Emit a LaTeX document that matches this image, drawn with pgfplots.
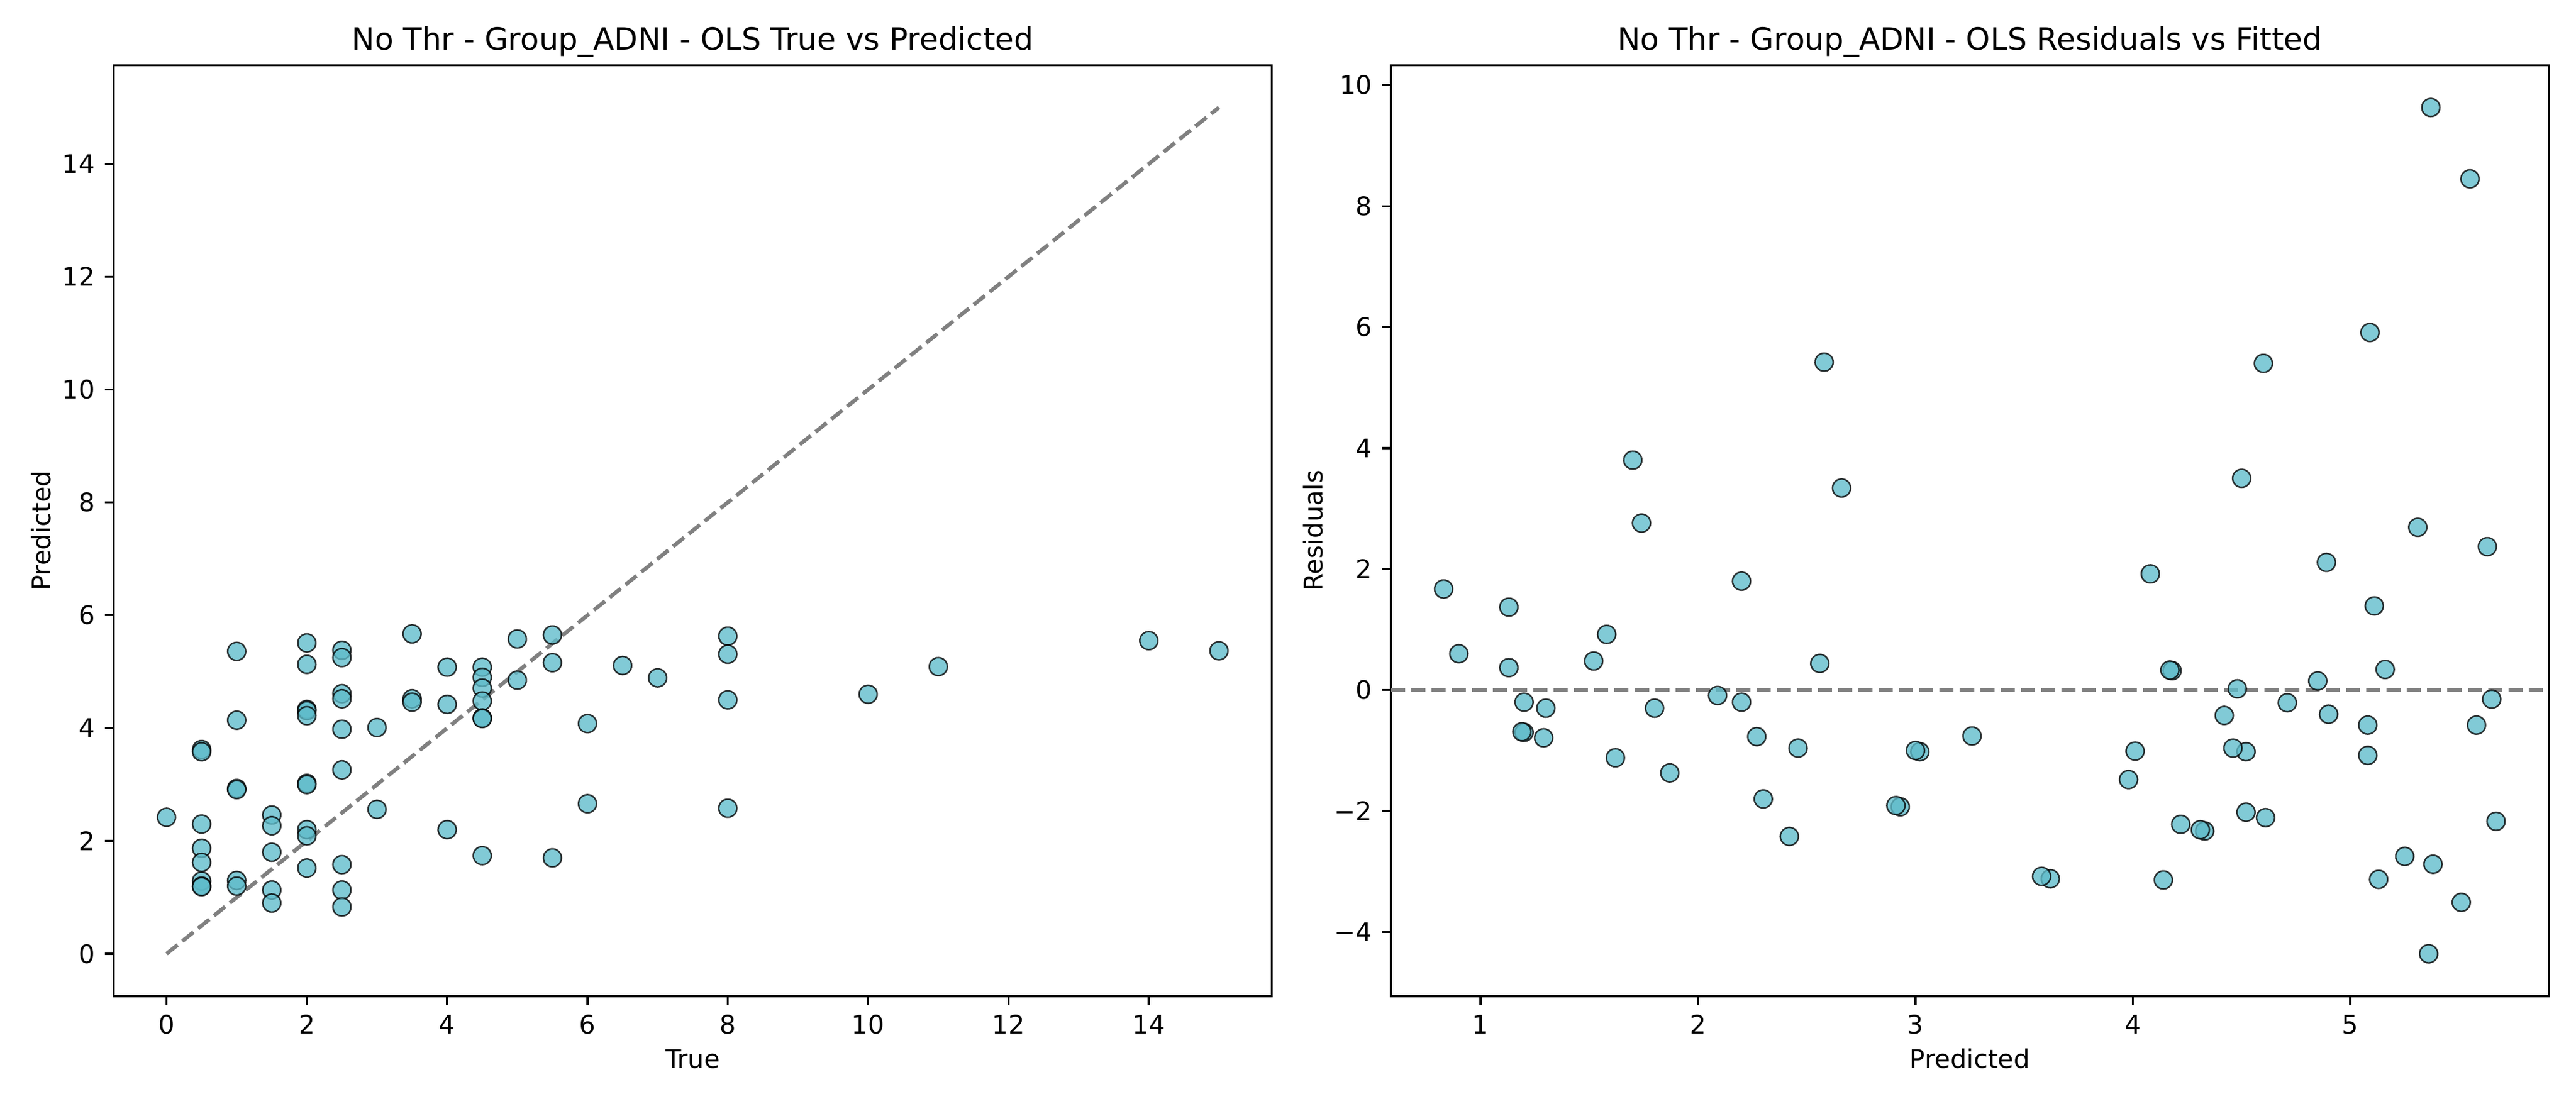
\documentclass[border=0pt]{standalone}
\usepackage{pgfplots}
\pgfplotsset{compat=1.18}
\usepackage{pgfplotstable}
\usepackage{fontspec}
\setmainfont{DejaVu Sans}
\definecolor{ptc}{RGB}{94,187,202}
\definecolor{lgray}{RGB}{128,128,128}

\pgfplotstableread{
t p r
0 2.42 -2.42
0.5 3.62 -3.12
0.5 3.58 -3.08
0.5 2.30 -1.80
0.5 1.87 -1.37
0.5 1.62 -1.12
0.5 1.29 -0.79
0.5 1.20 -0.70
0.5 1.19 -0.69
1 5.36 -4.36
1 4.14 -3.14
1 2.93 -1.93
1 2.91 -1.91
1 1.30 -0.30
1 1.20 -0.20
1.5 2.46 -0.96
1.5 2.27 -0.77
1.5 1.80 -0.30
1.5 1.13 0.37
1.5 0.90 0.60
2 5.51 -3.51
2 5.13 -3.13
2 4.33 -2.33
2 4.31 -2.31
2 4.22 -2.22
2 3.02 -1.02
2 3.00 -1.00
2 2.20 -0.20
2 2.09 -0.09
2 1.52 0.48
2.5 5.38 -2.88
2.5 5.25 -2.75
2.5 4.61 -2.11
2.5 4.52 -2.02
2.5 3.98 -1.48
2.5 3.26 -0.76
2.5 1.58 0.92
2.5 1.13 1.37
2.5 0.83 1.67
3 4.01 -1.01
3 2.56 0.44
3.5 5.67 -2.17
3.5 4.52 -1.02
3.5 4.46 -0.96
4 5.08 -1.08
4 4.42 -0.42
4 2.20 1.80
4.5 5.08 -0.58
4.5 4.90 -0.40
4.5 4.71 -0.21
4.5 4.48 0.02
4.5 4.18 0.32
4.5 4.17 0.33
4.5 1.74 2.76
5 5.58 -0.58
5 4.85 0.15
5.5 5.65 -0.15
5.5 5.16 0.34
5.5 1.70 3.80
6 4.08 1.92
6 2.66 3.34
6.5 5.11 1.39
7 4.89 2.11
8 5.63 2.37
8 5.31 2.69
8 4.50 3.50
8 2.58 5.42
10 4.60 5.40
11 5.09 5.91
14 5.55 8.45
15 5.37 9.63
}\data

\pgfplotsset{
  mpl/.style={
    scale only axis, width=453pt, height=364.5pt, anchor=south west,
    axis line style={line width=0.8pt},
    tick align=outside, major tick length=3.5pt,
    every tick/.style={black, line width=0.8pt},
    xtick pos=lower, ytick pos=left,
    font=\fontsize{10}{12}\selectfont,
    tick label style={font=\fontsize{10}{12}\selectfont},
    /pgf/number format/assume math mode=true,
    xticklabel style={anchor=north, inner sep=0pt, yshift=-3.7pt},
    yticklabel style={anchor=east, inner sep=0pt, xshift=-3.7pt},
    title style={at={(0.5,1)}, anchor=base, inner sep=0pt, font=\fontsize{12}{14}\selectfont},
    xlabel style={at={(0.5,-0.07737)}, anchor=base, inner sep=0pt},
    clip=true,
  },
  pts/.style={only marks, mark=*, mark size=3.54pt,
    mark options={fill=ptc, draw=black, line width=0.6pt, opacity=0.78}},
  refl/.style={lgray, line width=1.5pt, dash pattern=on 5.55pt off 2.4pt},
}

\begin{document}
\begin{tikzpicture}
\path (0,0) rectangle (1008pt,432pt);
\begin{axis}[mpl, at={(44.57pt,42pt)},
  xmin=-0.75, xmax=15.75, ymin=-0.75, ymax=15.75,
  xtick={0,2,...,14}, ytick={0,2,...,14},
  title={No Thr - Group\_ADNI - OLS True vs Predicted},
  xlabel={True}, ylabel={Predicted},
  ylabel style={at={(-0.05475,0.5)}, anchor=base, inner sep=0pt},
]
\addplot[pts] table[x=t, y=p] {\data};
\addplot[refl] coordinates {(0,0) (15,15)};
\end{axis}
\begin{axis}[mpl, at={(544.3pt,42pt)},
  xmin=0.588, xmax=5.912, ymin=-5.06, ymax=10.33,
  xtick={1,2,3,4,5}, ytick={-4,-2,0,2,4,6,8,10},
  yticklabels={−4,−2,0,2,4,6,8,10},
  title={No Thr - Group\_ADNI - OLS Residuals vs Fitted},
  xlabel={Predicted}, ylabel={Residuals},
  ylabel style={at={(-0.0592,0.5)}, anchor=base, inner sep=0pt},
]
\addplot[pts] table[x=p, y=r] {\data};
\addplot[refl] coordinates {(0.588,0) (5.912,0)};
\end{axis}
\end{tikzpicture}
\end{document}
